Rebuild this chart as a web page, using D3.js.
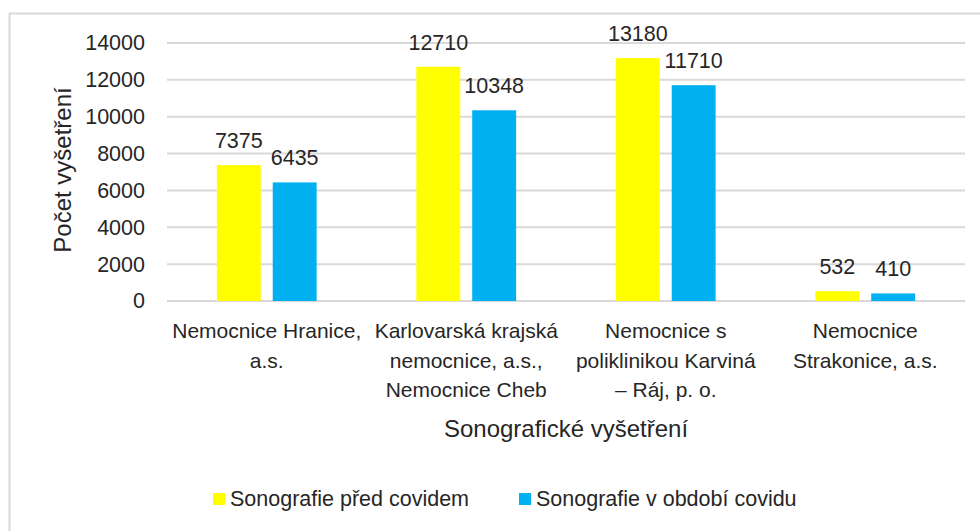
<!DOCTYPE html>
<html>
<head>
<meta charset="utf-8">
<script src="https://cdn.jsdelivr.net/npm/d3@7"></script>
<style>
  html, body { margin: 0; padding: 0; background: #fff; }
  svg { display: block; font-family: "Liberation Sans", Arial, sans-serif; }
  text { fill: #262626; }
</style>
</head>
<body>
<svg id="chart"></svg>
<script>
// hospitals (x categories), label lines split with "\n"
var categories = [
    "Nemocnice Hranice,\na.s.",
    "Karlovarská krajská\nnemocnice, a.s.,\nNemocnice Cheb",
    "Nemocnice s\npoliklinikou Karviná\n– Ráj, p. o.",
    "Nemocnice\nStrakonice, a.s."
];
var seriesNames = ["Sonografie před covidem", "Sonografie v období covidu"];
var beforeCovid = [7375, 12710, 13180, 532];
var duringCovid = [6435, 10348, 11710, 410];
var yTicks = [0, 2000, 4000, 6000, 8000, 10000, 12000, 14000];
var colors = ["#FFFF00", "#00B0F0"];

var width = 980,
    height = 531,
    margin = {top: 43, right: 15, bottom: 231, left: 167};

var svg = d3.select("#chart")
    .attr("width", width)
    .attr("height", height);

// chart area border (runs off the right and bottom edges)
svg.append("rect")
    .attr("x", 9.5)
    .attr("y", 13.5)
    .attr("width", 1000)
    .attr("height", 600)
    .style("fill", "none")
    .style("stroke", "#d9d9d9")
    .style("stroke-width", 2);

var x0 = d3.scaleBand()
    .domain(categories)
    .range([margin.left, width - margin.right])
    .paddingInner(0.5)
    .paddingOuter(0.25);

var x1 = d3.scaleBand()
    .domain(seriesNames)
    .range([0, x0.bandwidth()])
    .paddingInner(0.214);

var y = d3.scaleLinear()
    .domain([0, 14000])
    .range([height - margin.bottom + 1, margin.top]);

// gridlines
svg.append("g")
    .selectAll("line")
    .data(yTicks)
    .enter().append("line")
    .attr("x1", margin.left)
    .attr("x2", width - margin.right)
    .attr("y1", function (d) { return y(d); })
    .attr("y2", function (d) { return y(d); })
    .style("stroke", "#d9d9d9")
    .style("stroke-width", 2);

// y axis without domain line and ticks
var yAxis = svg.append("g")
    .attr("transform", "translate(" + (margin.left - 5) + ",0)")
    .call(d3.axisLeft(y).tickValues(yTicks).tickSize(0).tickPadding(17).tickFormat(d3.format("d")));
yAxis.select(".domain").remove();
yAxis.selectAll("text")
    .style("font-size", "21.5px")
    .style("font-family", "'Liberation Sans', Arial, sans-serif")
    .style("fill", "#262626");

var rows = categories.map(function (c, i) {
    return {cat: c, values: [beforeCovid[i], duringCovid[i]]};
});

var groups = svg.selectAll(".group")
    .data(rows)
    .enter().append("g")
    .attr("class", "group")
    .attr("transform", function (d) { return "translate(" + x0(d.cat) + ",0)"; });

var bars = groups.selectAll("g.bar")
    .data(function (d) {
        return d.values.map(function (v, j) { return {name: seriesNames[j], value: v, idx: j}; });
    })
    .enter().append("g")
    .attr("class", "bar");

bars.append("rect")
    .attr("x", function (d) { return x1(d.name); })
    .attr("width", x1.bandwidth())
    .attr("y", function (d) { return y(d.value); })
    .attr("height", function (d) { return y(0) - y(d.value); })
    .style("fill", function (d) { return colors[d.idx]; });

bars.append("text")
    .attr("x", function (d) { return x1(d.name) + x1.bandwidth() / 2; })
    .attr("y", function (d) { return y(d.value) - 17; })
    .attr("text-anchor", "middle")
    .style("font-size", "21.5px")
    .text(function (d) { return d.value; });

// category labels
groups.append("text")
    .attr("text-anchor", "middle")
    .attr("x", x0.bandwidth() / 2)
    .attr("y", 338)
    .style("font-size", "21px")
    .selectAll("tspan")
    .data(function (d) { return d.cat.split("\n"); })
    .enter().append("tspan")
    .attr("x", x0.bandwidth() / 2)
    .attr("dy", function (d, i) { return i ? 29.5 : 0; })
    .text(function (d) { return d; });

// axis titles
svg.append("text")
    .attr("x", (margin.left + width - margin.right) / 2)
    .attr("y", 437)
    .attr("text-anchor", "middle")
    .style("font-size", "24px")
    .text("Sonografické vyšetření");

svg.append("text")
    .attr("transform", "translate(71,170)rotate(-90)")
    .attr("text-anchor", "middle")
    .style("font-size", "24px")
    .text("Počet vyšetření");

// legend
var legendX = [213, 519];
var legend = svg.selectAll(".legend")
    .data(seriesNames)
    .enter().append("g")
    .attr("class", "legend")
    .attr("transform", function (d, i) { return "translate(" + legendX[i] + ",493)"; });

legend.append("rect")
    .attr("width", 12)
    .attr("height", 12)
    .style("fill", function (d, i) { return colors[i]; });

legend.append("text")
    .attr("x", 17)
    .attr("y", 13)
    .style("font-size", "21.5px")
    .text(function (d) { return d; });
</script>
</body>
</html>
